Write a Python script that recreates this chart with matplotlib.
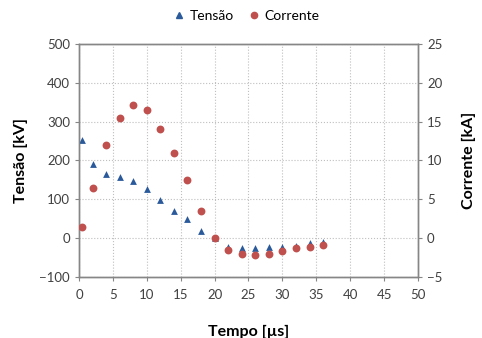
import matplotlib
matplotlib.use('Agg')
import matplotlib.pyplot as plt
from matplotlib.lines import Line2D

plt.rcParams['font.family'] = ['Lato', 'DejaVu Sans']

# Data
tempo = [0.5, 2, 4, 6, 8, 10, 12, 14, 16, 18, 20, 22, 24, 26, 28, 30, 32, 34, 36]
tensao = [253, 190, 164, 158, 146, 126, 99, 69, 49, 19, 0, -22, -26, -25, -24, -24, -20, -13, -9]
corrente = [1.5, 6.45, 11.95, 15.5, 17.2, 16.5, 14.0, 11.0, 7.45, 3.45, 0.0,
            -1.5, -2.0, -2.2, -2.0, -1.7, -1.27, -1.1, -0.9]

x_ticks = list(range(0, 51, 5))
v_ticks = list(range(-100, 501, 100))
i_ticks = list(range(-5, 26, 5))

blue = '#2B5A9B'
red = '#C0504D'
grid_col = '#BFBFBF'
spine_col = '#868686'
text_col = '#404040'

fig = plt.figure(figsize=(4.82, 3.38), dpi=100)
ax1 = fig.add_axes([0.1639, 0.1805, 0.7033, 0.6893])
ax2 = ax1.twinx()

ax1.scatter(tempo, tensao, marker='^', s=24, color=blue, zorder=3, linewidths=0)
ax2.scatter(tempo, corrente, marker='o', s=32, color=red, zorder=3, linewidths=0)

ax1.set_xlim(0, 50)
ax1.set_ylim(-100, 500)
ax2.set_ylim(-5, 25)
ax1.set_xticks(x_ticks)
ax1.set_yticks(v_ticks)
ax2.set_yticks(i_ticks)

ax1.grid(True, color=grid_col, linestyle=':', linewidth=0.8)
ax1.set_axisbelow(True)

for ax in (ax1, ax2):
    for sp in ax.spines.values():
        sp.set_color(spine_col)
        sp.set_linewidth(1.0)
    ax.tick_params(colors=spine_col, labelcolor=text_col, labelsize=9.5, length=3, width=0.8)

ax1.tick_params(axis='x', pad=6)
ax1.set_xlabel('Tempo [µs]', fontsize=11.5, fontweight='bold', color='black', labelpad=17)
ax1.set_ylabel('Tensão [kV]', fontsize=11.5, fontweight='bold', color='black', labelpad=8)
ax2.set_ylabel('Corrente [kA]', fontsize=11.5, fontweight='bold', color='black', labelpad=14)

handles = [
    Line2D([], [], marker='^', linestyle='', color=blue, markersize=4.5),
    Line2D([], [], marker='o', linestyle='', color=red, markersize=4.5),
]
fig.legend(handles, ['Tensão', 'Corrente'], loc='center', bbox_to_anchor=(0.51, 0.953),
           ncol=2, frameon=False, fontsize=10, handletextpad=0.3, columnspacing=0.9,
           handlelength=1.0)

plt.savefig('out.png', dpi=100)
